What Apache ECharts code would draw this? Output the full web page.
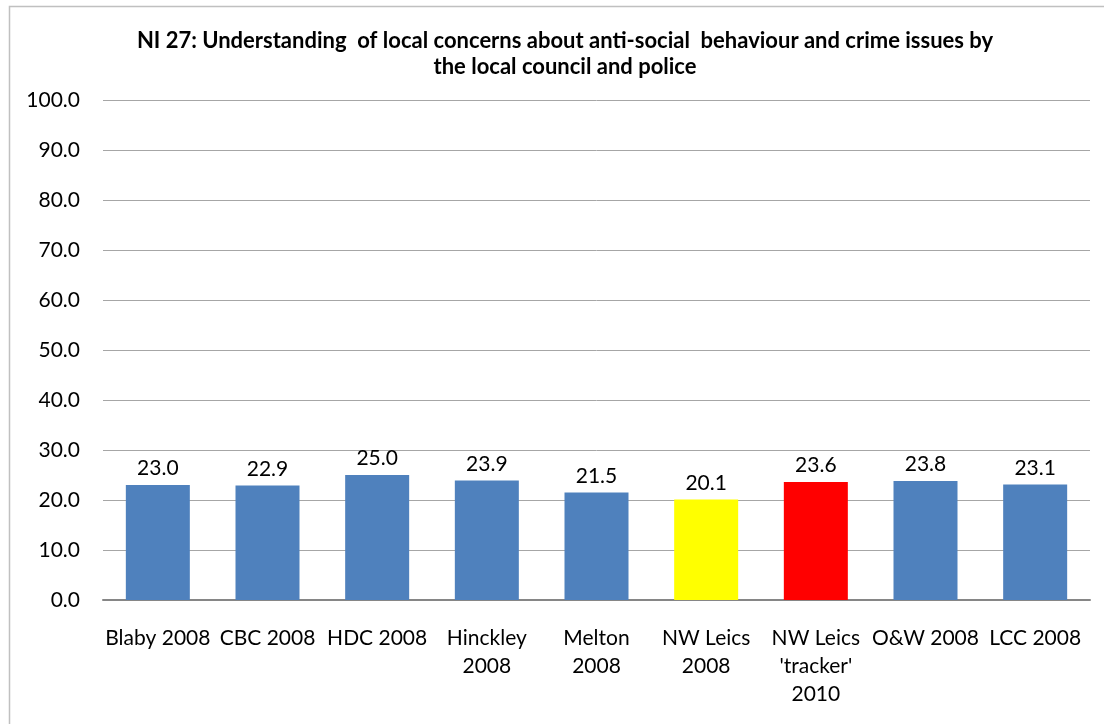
<!DOCTYPE html>
<html>
<head>
<meta charset="utf-8">
<script src="https://cdn.jsdelivr.net/npm/echarts@6/dist/echarts.min.js"></script>
<style>
  html, body { margin: 0; padding: 0; background: #fff; }
  #chart { width: 1104px; height: 724px; }
</style>
</head>
<body>
<div id="chart"></div>
<script>
const categories = [
  'Blaby 2008', 'CBC 2008', 'HDC 2008', 'Hinckley\n2008', 'Melton\n2008',
  'NW Leics\n2008', "NW Leics\n'tracker'\n2010", 'O&W 2008', 'LCC 2008'
]
const values = [23.0, 22.9, 25.0, 23.9, 21.5, 20.1, 23.6, 23.8, 23.1]
const barColors = ['#4f81bd', '#4f81bd', '#4f81bd', '#4f81bd', '#4f81bd', '#ffff00', '#ff0000', '#4f81bd', '#4f81bd']
const yTicks = { min: 0, max: 100, interval: 10 }

const font = 'Lato, "Open Sans", sans-serif'
const chart = echarts.init(document.getElementById('chart'))

chart.setOption({
  animation: false,
  title: {
    text: 'NI 27: Understanding  of local concerns about anti-social  behaviour and crime issues by\nthe local council and police',
    left: 560,
    top: 23,
    textAlign: 'center',
    textStyle: {
      fontFamily: font,
      fontSize: 22,
      fontWeight: 'bold',
      color: '#000',
      lineHeight: 26,
    },
  },
  graphic: [{
    type: 'rect',
    shape: { x: 9.5, y: 6.5, width: 1200, height: 800 },
    style: { fill: 'none', stroke: '#c0c0c0', lineWidth: 1.5 },
    silent: true,
  }],
  grid: {
    top: 100,
    left: 103,
    right: 14,
    bottom: 124,
  },
  xAxis: {
    type: 'category',
    data: categories,
    axisLine: { lineStyle: { color: '#868686', width: 2 } },
    axisTick: { show: false },
    axisLabel: {
      interval: 0,
      color: '#000',
      fontFamily: font,
      fontSize: 21,
      lineHeight: 28,
      margin: 24,
      align: 'center',
    },
  },
  yAxis: {
    type: 'value',
    min: yTicks.min,
    max: yTicks.max,
    interval: yTicks.interval,
    axisLine: { show: false },
    axisTick: { show: false },
    axisLabel: {
      color: '#000',
      fontFamily: font,
      fontSize: 21,
      margin: 23,
      formatter: v => v.toFixed(1),
    },
    splitLine: { lineStyle: { color: '#a6a6a6', width: 1 } },
  },
  series: [{
    type: 'bar',
    barWidth: 64,
    data: values.map((v, i) => ({ value: v, itemStyle: { color: barColors[i] } })),
    label: {
      show: true,
      position: 'top',
      distance: 6,
      color: '#000',
      fontFamily: font,
      fontSize: 21,
      formatter: p => p.value.toFixed(1),
    },
  }],
})
</script>
</body>
</html>
